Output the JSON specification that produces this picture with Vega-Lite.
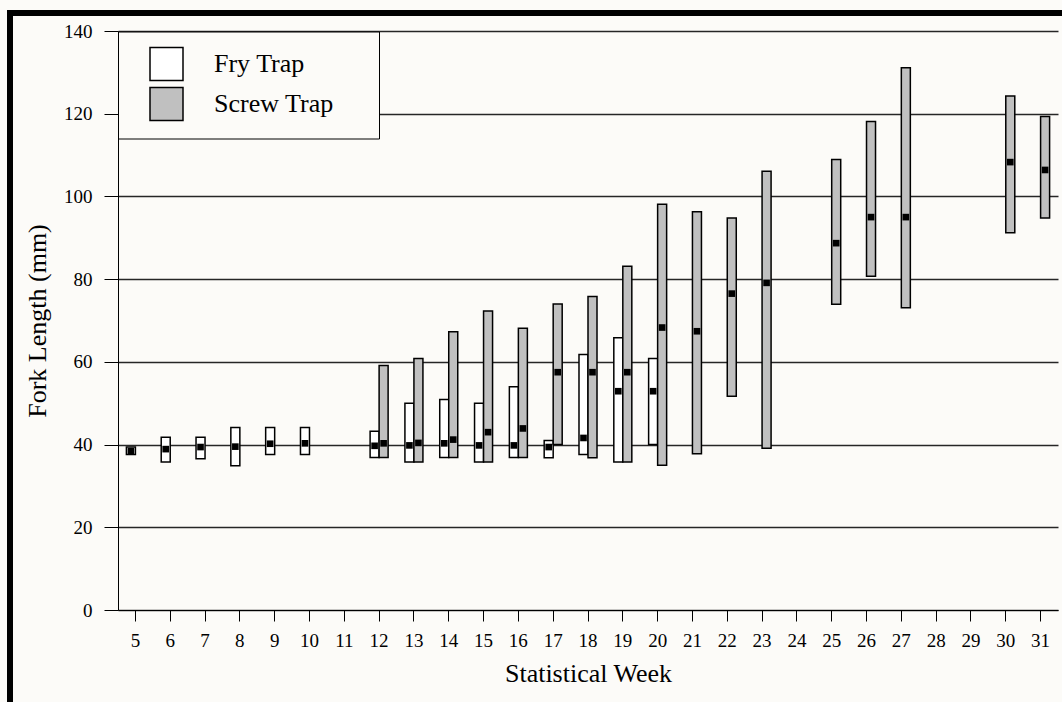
{
  "$schema": "https://vega.github.io/schema/vega-lite/v6.json",
  "background": "#fcfbf8",
  "padding": {"left": 7, "top": 10, "right": 0, "bottom": 0},
  "config": {
    "view": {"stroke": null},
    "font": "Liberation Serif"
  },
  "spacing": 0,
  "hconcat": [
    {
      "width": 6,
      "height": 692,
      "data": {"values": []},
      "mark": "rect",
      "encoding": {},
      "view": {"fill": "#000000", "stroke": null}
    },
    {
      "spacing": 6,
      "vconcat": [
        {
          "width": 1049,
          "height": 6,
          "data": {"values": []},
          "mark": "rect",
          "encoding": {},
          "view": {"fill": "#000000", "stroke": null}
        },
        {
          "spacing": 0,
          "hconcat": [
            {
              "width": 1,
              "height": 579,
              "data": {"values": []},
              "mark": "rect",
              "encoding": {},
              "view": {"stroke": null}
            },
            {
              "width": 940,
              "height": 579,
              "view": {"stroke": null},
              "data": {
                "values": [
                  {"week": 5, "trap": "Fry Trap", "min": 37.6, "max": 39.4, "mean": 38.4},
                  {"week": 6, "trap": "Fry Trap", "min": 35.8, "max": 41.8, "mean": 38.9},
                  {"week": 7, "trap": "Fry Trap", "min": 36.6, "max": 41.8, "mean": 39.4},
                  {"week": 8, "trap": "Fry Trap", "min": 34.9, "max": 44.1, "mean": 39.5},
                  {"week": 9, "trap": "Fry Trap", "min": 37.6, "max": 44.1, "mean": 40.2},
                  {"week": 10, "trap": "Fry Trap", "min": 37.6, "max": 44.1, "mean": 40.3},
                  {"week": 12, "trap": "Fry Trap", "min": 36.9, "max": 43.2, "mean": 39.7},
                  {"week": 13, "trap": "Fry Trap", "min": 35.8, "max": 50.0, "mean": 39.8},
                  {"week": 14, "trap": "Fry Trap", "min": 36.9, "max": 50.9, "mean": 40.3},
                  {"week": 15, "trap": "Fry Trap", "min": 35.8, "max": 50.0, "mean": 39.8},
                  {"week": 16, "trap": "Fry Trap", "min": 36.9, "max": 54.0, "mean": 39.8},
                  {"week": 17, "trap": "Fry Trap", "min": 36.8, "max": 41.0, "mean": 39.4},
                  {"week": 18, "trap": "Fry Trap", "min": 37.6, "max": 61.8, "mean": 41.6},
                  {"week": 19, "trap": "Fry Trap", "min": 35.8, "max": 65.8, "mean": 52.9},
                  {"week": 20, "trap": "Fry Trap", "min": 40.0, "max": 60.8, "mean": 52.9},
                  {"week": 12, "trap": "Screw Trap", "min": 36.9, "max": 59.1, "mean": 40.3},
                  {"week": 13, "trap": "Screw Trap", "min": 35.8, "max": 60.8, "mean": 40.4},
                  {"week": 14, "trap": "Screw Trap", "min": 36.9, "max": 67.3, "mean": 41.2},
                  {"week": 15, "trap": "Screw Trap", "min": 35.8, "max": 72.3, "mean": 43.0},
                  {"week": 16, "trap": "Screw Trap", "min": 36.9, "max": 68.1, "mean": 43.9},
                  {"week": 17, "trap": "Screw Trap", "min": 40.0, "max": 74.0, "mean": 57.5},
                  {"week": 18, "trap": "Screw Trap", "min": 36.8, "max": 75.8, "mean": 57.5},
                  {"week": 19, "trap": "Screw Trap", "min": 35.8, "max": 83.1, "mean": 57.5},
                  {"week": 20, "trap": "Screw Trap", "min": 35.0, "max": 98.1, "mean": 68.3},
                  {"week": 21, "trap": "Screw Trap", "min": 37.8, "max": 96.3, "mean": 67.4},
                  {"week": 22, "trap": "Screw Trap", "min": 51.7, "max": 94.8, "mean": 76.5},
                  {"week": 23, "trap": "Screw Trap", "min": 39.1, "max": 106.1, "mean": 79.1},
                  {"week": 25, "trap": "Screw Trap", "min": 73.9, "max": 108.9, "mean": 88.7},
                  {"week": 26, "trap": "Screw Trap", "min": 80.7, "max": 118.1, "mean": 95.0},
                  {"week": 27, "trap": "Screw Trap", "min": 73.1, "max": 131.1, "mean": 95.0},
                  {"week": 30, "trap": "Screw Trap", "min": 91.2, "max": 124.3, "mean": 108.3},
                  {"week": 31, "trap": "Screw Trap", "min": 94.8, "max": 119.3, "mean": 106.4}
                ]
              },
              "encoding": {
                "x": {
                  "field": "week",
                  "type": "ordinal",
                  "scale": {
                    "type": "band",
                    "domain": [5, 6, 7, 8, 9, 10, 11, 12, 13, 14, 15, 16, 17, 18, 19, 20, 21, 22, 23, 24, 25, 26, 27, 28, 29, 30, 31],
                    "paddingInner": 0,
                    "paddingOuter": 0
                  },
                  "axis": {
                    "title": "Statistical Week",
                    "labelAngle": 0,
                    "labelFont": "Liberation Serif",
                    "labelFontSize": 19,
                    "labelColor": "#000000",
                    "labelPadding": 10,
                    "tickSize": 11,
                    "tickColor": "#000000",
                    "tickWidth": 1,
                    "domainColor": "#000000",
                    "domainWidth": 1,
                    "grid": false,
                    "titleFont": "Liberation Serif",
                    "titleFontSize": 26,
                    "titleFontWeight": "normal",
                    "titleColor": "#000000",
                    "titlePadding": 10
                  }
                },
                "xOffset": {
                  "field": "trap",
                  "type": "nominal",
                  "scale": {"domain": ["Fry Trap", "Screw Trap"], "paddingInner": 0, "paddingOuter": 0.933}
                }
              },
              "layer": [
                {
                  "mark": {"type": "bar", "stroke": "#000000", "strokeWidth": 1.5},
                  "encoding": {
                    "y": {
                      "field": "min",
                      "type": "quantitative",
                      "scale": {"domain": [0, 140], "nice": false, "zero": true},
                      "axis": {
                        "title": "Fork Length (mm)",
                        "values": [0, 20, 40, 60, 80, 100, 120, 140],
                        "labelFont": "Liberation Serif",
                        "labelFontSize": 19,
                        "labelColor": "#000000",
                        "labelPadding": 12,
                        "tickSize": 14,
                        "tickColor": "#000000",
                        "domainColor": "#000000",
                        "grid": true,
                        "gridColor": "#262626",
                        "gridWidth": 1.3,
                        "titleFont": "Liberation Serif",
                        "titleFontSize": 26,
                        "titleFontWeight": "normal",
                        "titleColor": "#000000",
                        "titleX": -68,
                        "minExtent": 104
                      }
                    },
                    "y2": {"field": "max"},
                    "fill": {
                      "field": "trap",
                      "type": "nominal",
                      "scale": {"domain": ["Fry Trap", "Screw Trap"], "range": ["#ffffff", "#c0c0c0"]},
                      "legend": {
                        "title": " ",
                        "titleOrient": "right",
                        "titlePadding": 30,
                        "titleFontSize": 8,
                        "orient": "none",
                        "legendX": 111,
                        "legendY": 21.5,
                        "padding": 15,
                        "symbolOffset": 16,
                        "symbolType": "square",
                        "symbolSize": 1089,
                        "symbolStrokeColor": "#000000",
                        "symbolStrokeWidth": 1.5,
                        "labelFont": "Liberation Serif",
                        "labelFontSize": 26,
                        "labelColor": "#000000",
                        "labelOffset": 30,
                        "labelLimit": 400,
                        "rowPadding": 1,
                        "strokeColor": "#000000",
                        "fillColor": "#fcfbf8"
                      }
                    }
                  }
                },
                {
                  "mark": {"type": "square", "size": 44, "color": "#000000", "filled": true, "opacity": 1},
                  "encoding": {
                    "y": {
                      "field": "mean",
                      "type": "quantitative",
                      "axis": {
                        "title": "Fork Length (mm)",
                        "values": [0, 20, 40, 60, 80, 100, 120, 140],
                        "labelFont": "Liberation Serif",
                        "labelFontSize": 19,
                        "labelColor": "#000000",
                        "labelPadding": 12,
                        "tickSize": 14,
                        "tickColor": "#000000",
                        "domainColor": "#000000",
                        "grid": true,
                        "gridColor": "#262626",
                        "gridWidth": 1.3,
                        "titleFont": "Liberation Serif",
                        "titleFontSize": 26,
                        "titleFontWeight": "normal",
                        "titleColor": "#000000",
                        "titleX": -68,
                        "minExtent": 104
                      }
                    }
                  }
                }
              ]
            }
          ]
        }
      ]
    }
  ]
}
